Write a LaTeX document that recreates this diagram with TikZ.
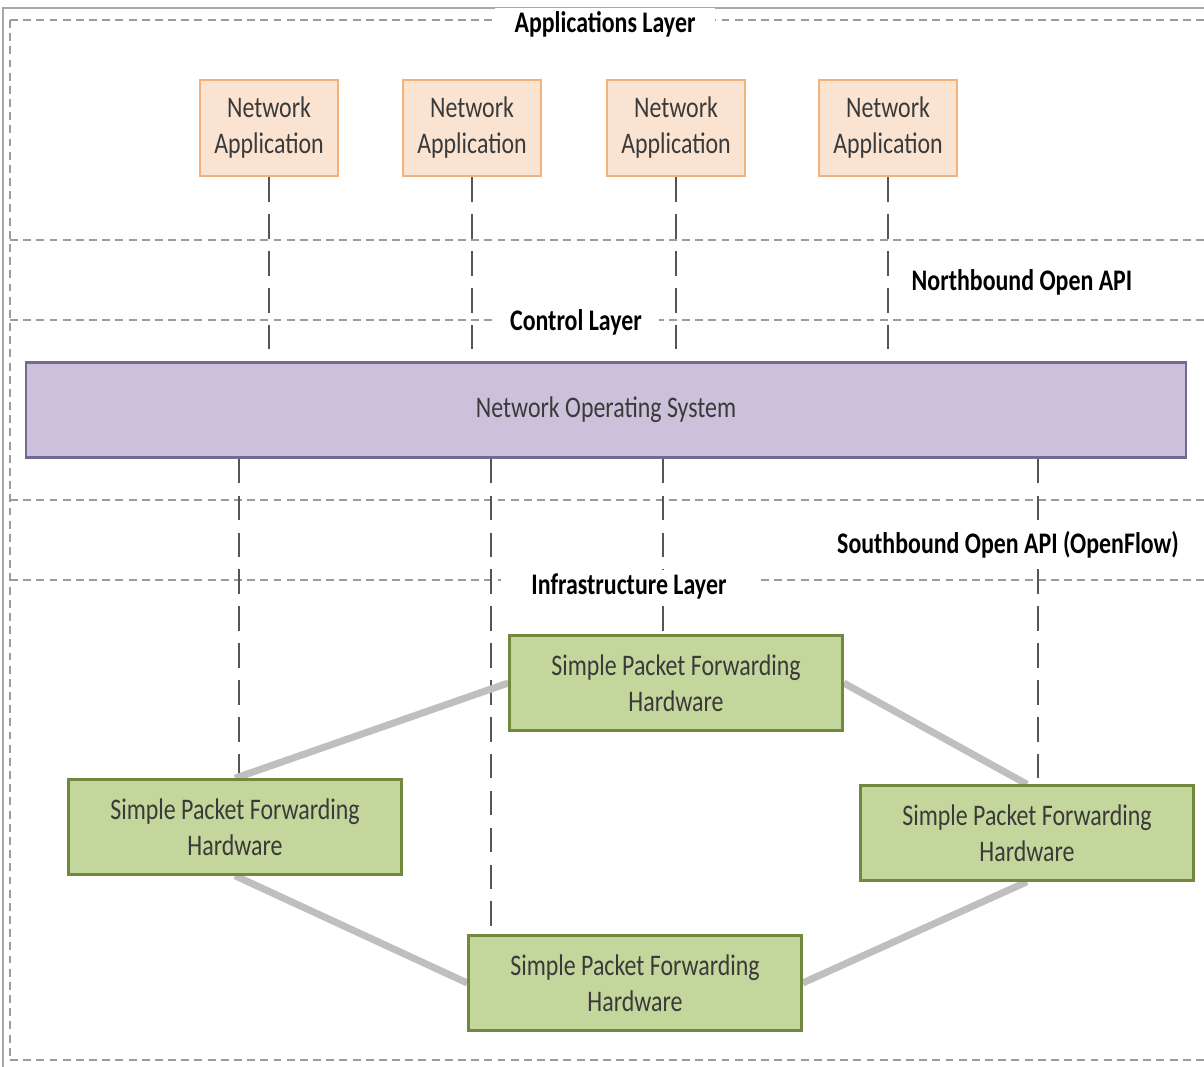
\documentclass[tikz,border=0pt]{standalone}
\usepackage{fontspec}
\setmainfont{Carlito}[FakeStretch=0.8]
\usetikzlibrary{positioning, calc, backgrounds}
\definecolor{appbg}{HTML}{FBE3D2}
\definecolor{appedge}{HTML}{F2B27E}
\definecolor{nosbg}{HTML}{CCC1DA}
\definecolor{nosedge}{HTML}{75698F}
\definecolor{hwbg}{HTML}{C3D69B}
\definecolor{hwedge}{HTML}{71893F}
\definecolor{boxtxt}{HTML}{3A3A3A}
\definecolor{layergray}{HTML}{9C9C9C}
\definecolor{apigray}{HTML}{555555}
\definecolor{linkgray}{HTML}{BFBFBF}
\definecolor{framegray}{HTML}{A8A8A8}

\begin{document}
\begin{tikzpicture}[
    x=0.02cm, y=-0.02cm,
    appbox/.style={
        draw=appedge, fill=appbg, line width=1.4pt, align=center, text=boxtxt,
        minimum width=2.76cm, minimum height=1.92cm,
        font=\fontsize{17}{20.5}\selectfont
    },
    nosbox/.style={
        draw=nosedge, fill=nosbg, line width=1.4pt, text=boxtxt,
        minimum width=23.2cm, minimum height=1.9cm,
        font=\fontsize{17}{20.5}\selectfont
    },
    hwbox/.style={
        draw=hwedge, fill=hwbg, line width=1.4pt, align=center, text=boxtxt,
        minimum width=6.66cm, minimum height=1.9cm,
        font=\fontsize{17}{20.5}\selectfont
    },
    layerlbl/.style={
        font=\fontsize{17}{20.5}\selectfont\bfseries, fill=white,
        inner ysep=2pt, inner xsep=#1
    },
    layerlbl/.default=2pt,
    layerline/.style={
        draw=layergray, line width=1.5pt, dash pattern=on 4.5pt off 3pt
    },
    apiline/.style={
        draw=apigray, line width=1.1pt, dash pattern=on 14pt off 7pt
    },
    link/.style={
        draw=linkgray, line width=4pt
    }
]
\useasboundingbox (0,0) rectangle (1204,1067);

% Frame and layer boundaries
\begin{scope}[on background layer]
    \draw[framegray, line width=0.6pt] (3,1067) -- (3,8) -- (1204,8);
    \foreach \y in {20, 240, 320, 500, 580, 1060} {
        \draw[layerline] (10,\y) -- (1204,\y);
    }
    \draw[layerline] (10,20) -- (10,1060);
\end{scope}

% Applications layer
\foreach \i/\x in {1/269, 2/472, 3/676, 4/888} {
    \node[appbox] (app\i) at (\x,128) {Network\\Application};
}

% Control layer
\node[nosbox] (nos) at (606,410) {Network Operating System};

% Infrastructure layer
\node[hwbox] (hwT) at (676,683) {Simple Packet Forwarding\\Hardware};
\node[hwbox] (hwL) at (235,827) {Simple Packet Forwarding\\Hardware};
\node[hwbox] (hwR) at (1027,833) {Simple Packet Forwarding\\Hardware};
\node[hwbox] (hwB) at (635,983) {Simple Packet Forwarding\\Hardware};

% Where the southbound lines land
\coordinate (sbL) at ($(hwL.north)+(4,0)$);
\coordinate (sbB) at ($(hwB.north west)+(24,0)$);
\coordinate (sbT) at ($(hwT.north)+(-13,0)$);
\coordinate (sbR) at ($(hwR.north)+(11,0)$);

\begin{scope}[on background layer]
    % Northbound API
    \foreach \i in {1,...,4} {
        \draw[apiline] (app\i.south) -- (app\i.south |- nos.north);
    }
    % Southbound API
    \foreach \c in {sbL, sbB, sbT, sbR} {
        \draw[apiline] (nos.south -| \c) -- (\c);
    }
    % Forwarding links
    \draw[link] (hwT.west) -- (hwL.north);
    \draw[link] (hwT.east) -- (hwR.north);
    \draw[link] (hwL.south) -- (hwB.west);
    \draw[link] (hwR.south) -- (hwB.east);
\end{scope}

% Layer and API labels
\node[layerlbl=0.4cm] (applbl) at (605,24) {Applications Layer};
\node[layerlbl] (nbapi) at (1022,282) {Northbound Open API};
\node[layerlbl=0.35cm] (ctllbl) at (576,322) {Control Layer};
\node[layerlbl] (sbapi) at (1008,545) {Southbound Open API (OpenFlow)};
\node[layerlbl=0.6cm] (inflbl) at (629,586) {Infrastructure Layer};

\end{tikzpicture}
\end{document}
